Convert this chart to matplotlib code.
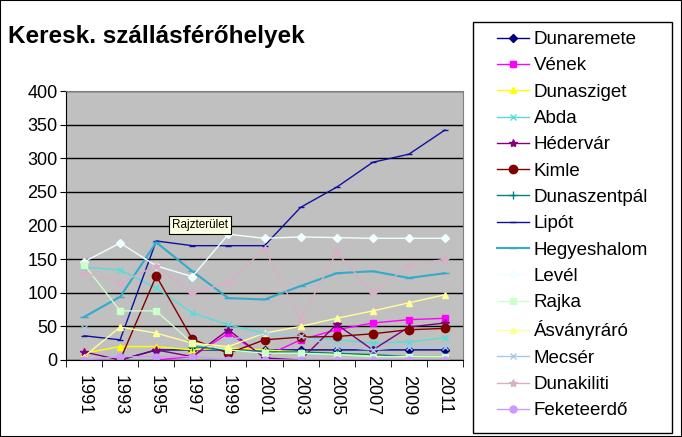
import matplotlib
matplotlib.use('Agg')
import numpy as np
import matplotlib.pyplot as plt
from matplotlib.patches import Rectangle

plt.rcParams['font.family'] = ['Liberation Sans', 'DejaVu Sans']

nan = np.nan
years = ['1991', '1993', '1995', '1997', '1999', '2001', '2003', '2005', '2007', '2009', '2011']

dunaremete   = [nan, 0, 15, 15, 15, 15, 15, 15, 15, 15, 15]
venek        = [nan, nan, 0, 5, 40, 5, 30, 45, 55, 60, 62]
dunasziget   = [10, 20, 20, 15, 18, 15, 12, 10, 7, 5, 4]
abda         = [138, 134, 107, 70, 52, 40, 35, 30, 25, 27, 33]
hedervar     = [12, 0, 15, 5, 45, 3, 0, 53, 15, 49, 55]
kimle        = [nan, 0, 125, 31, 10, 30, 34, 35, 39, 45, 47]
dunaszentpal = [nan, nan, nan, 20, 15, 12, 12, 10, 8, 5, 5]
lipot        = [36, 30, 177, 170, 170, 170, 227, 257, 294, 306, 342]
hegyeshalom  = [64, 94, 175, 132, 92, 90, 110, 129, 132, 122, 129]
level        = [146, 174, 140, 124, 187, 181, 183, 182, 181, 181, 181]
rajka        = [142, 73, 73, 25, 15, 10, 10, 8, 5, 5, 5]
asvanyraro   = [5, 49, 40, 25, 20, 40, 50, 62, 73, 85, 97]
mecser       = [48, nan, nan, nan, 30, 40, 35, 20, 15, 20, 20]
dunakiliti   = [130, 115, 140, 100, 115, 165, 60, 160, 100, 140, 150]
feketeerdo   = [0, 5, 5, 5, 0, 0, 0, 0, 0, 0, 0]

series = [
    ('Dunaremete', dunaremete, '#000080', 'D', 4, 1.0),
    ('Vének', venek, '#FF00FF', 's', 5, 1.0),
    ('Dunasziget', dunasziget, '#FFFF00', '^', 5, 1.0),
    ('Abda', abda, '#55DDDD', 'x', 5, 1.0),
    ('Hédervár', hedervar, '#800080', '*', 6, 1.0),
    ('Kimle', kimle, '#800000', 'o', 6, 1.0),
    ('Dunaszentpál', dunaszentpal, '#008080', '+', 6, 1.0),
    ('Lipót', lipot, '#1010A0', '_', 5, 1.0),
    ('Hegyeshalom', hegyeshalom, '#33AACC', '_', 6, 1.5),
    ('Levél', level, '#F0FFFF', 'D', 4, 1.0),
    ('Rajka', rajka, '#CCFFCC', 's', 5, 1.0),
    ('Ásványráró', asvanyraro, '#FFFF99', '^', 5, 1.0),
    ('Mecsér', mecser, '#A8C8E8', 'x', 5, 1.0),
    ('Dunakiliti', dunakiliti, '#D8B0C6', '*', 6, 1.0),
    ('Feketeerdő', feketeerdo, '#CC99FF', 'o', 5, 1.0),
]

W, H = 682, 437
fig = plt.figure(figsize=(W / 100, H / 100), dpi=100)
ax = fig.add_axes([66 / W, 1 - 360 / H, (463 - 66) / W, (360 - 91) / H])
ax.set_facecolor('#C0C0C0')

x = np.arange(len(years))
handles = []
for name, vals, col, mk, ms, lw in series:
    h, = ax.plot(x, vals, color=col, marker=mk, markersize=ms, lw=lw,
                 markeredgecolor=col, markerfacecolor=col, label=name)
    handles.append(h)

ax.set_ylim(0, 400)
ax.set_xlim(-0.5, len(years) - 0.5)
ax.set_yticks(np.arange(0, 401, 50))
ax.yaxis.grid(True, color='black', lw=1)
ax.set_axisbelow(True)
ax.tick_params(axis='y', labelsize=13, length=4, pad=2, direction='out')

ax.set_xticks(x)
ax.set_xticklabels(years, rotation=-90, fontsize=13)
ax.set_xticks(np.arange(-0.5, len(years)), minor=True)
ax.tick_params(axis='x', which='major', length=0, pad=11)
ax.tick_params(axis='x', which='minor', length=5, direction='out')

for s in ['top', 'right']:
    ax.spines[s].set_color('#808080')
for s in ['left', 'bottom']:
    ax.spines[s].set_color('black')

fig.text(8 / W, 1 - 37 / H, 'Keresk. szállásférőhelyek', fontsize=17.5,
         fontweight='bold', va='center', ha='left')

fig.text(172 / W, 1 - 225 / H, 'Rajzterület', fontsize=8.5, va='center', ha='left',
         bbox=dict(boxstyle='square,pad=0.25', facecolor='#FFFFE1', edgecolor='black', lw=0.8))

# legend box
fig.patches.append(Rectangle((473 / W, 1 - 433 / H), (672 - 473) / W, (433 - 22) / H,
                             transform=fig.transFigure, fill=False, edgecolor='black', lw=1))
fig.legend(handles=handles, loc='upper left', bbox_to_anchor=(497 / W, 1 - 31 / H),
           frameon=False, fontsize=13.5, handlelength=1.7, handletextpad=0.25,
           labelspacing=0.49, borderaxespad=0, borderpad=0)

# chart area border
fig.patches.append(Rectangle((0, 0), 1, 1, transform=fig.transFigure, fill=False,
                             edgecolor='black', lw=1.5))

fig.savefig('out.png', dpi=100)
